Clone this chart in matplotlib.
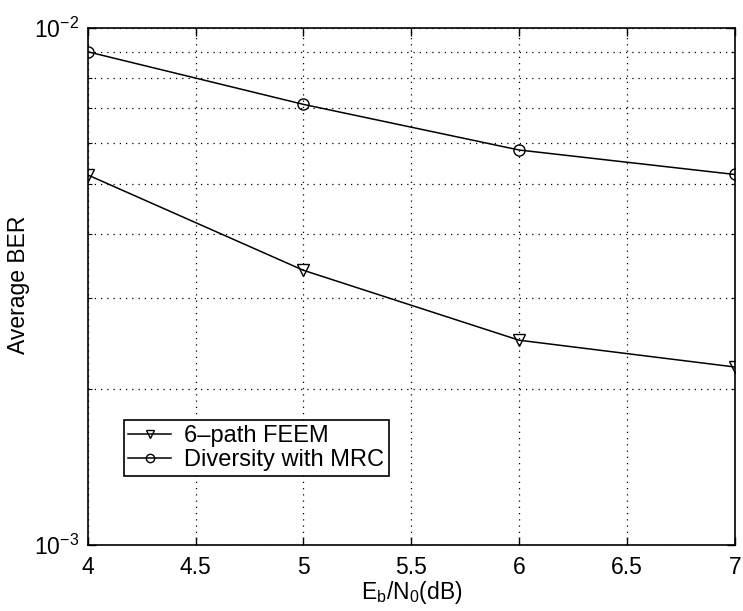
import matplotlib
matplotlib.use("Agg")
import matplotlib.pyplot as plt
from matplotlib.ticker import LogLocator, NullFormatter, FixedLocator

# data
ebn0 = [4, 5, 6, 7]
ber_feem = [5.2e-3, 3.40e-3, 2.49e-3, 2.21e-3]
ber_mrc = [9.0e-3, 7.12e-3, 5.81e-3, 5.21e-3]
labels = ["6\u2013path FEEM", "Diversity with MRC"]
xticks = [4, 4.5, 5, 5.5, 6, 6.5, 7]

plt.rcParams["font.family"] = ["Liberation Sans", "DejaVu Sans"]
plt.rcParams["mathtext.default"] = "regular"
fs = 16.5

fig = plt.figure(figsize=(7.43, 6.11), dpi=100)
ax = fig.add_axes([0.118, 0.108, 0.871, 0.846])

ax.plot(ebn0, ber_feem, "k-v", lw=1.1, ms=8, mfc="none", mew=1.0, label=labels[0])
ax.plot(ebn0, ber_mrc, "k-o", lw=1.1, ms=8, mfc="none", mew=1.0, label=labels[1])

ax.set_yscale("log")
ax.set_xlim(4, 7)
ax.set_ylim(1e-3, 1e-2)
ax.xaxis.set_major_locator(FixedLocator(xticks))
ax.set_xticklabels([f"{t:g}" for t in xticks])
ax.yaxis.set_major_locator(LogLocator(base=10))
ax.yaxis.set_minor_locator(LogLocator(base=10, subs=range(2, 10)))
ax.yaxis.set_minor_formatter(NullFormatter())

ax.grid(True, which="both", color="k", linestyle=(0, (1, 4)), lw=0.9)
ax.tick_params(which="both", direction="in", top=True, right=True, labelsize=fs, colors="k")
ax.tick_params(which="major", length=6, width=1)
ax.tick_params(which="minor", length=3, width=0.8)
ax.tick_params(axis="x", pad=8)
ax.tick_params(axis="y", pad=6)
for s in ax.spines.values():
    s.set_linewidth(1.2)

ax.set_xlabel(r"E$_b$/N$_0$(dB)", fontsize=fs, labelpad=0)
ax.set_ylabel("Average BER", fontsize=fs, va="center")
ax.yaxis.set_label_coords(-0.107, 0.503)

leg = ax.legend(loc="lower left", bbox_to_anchor=(0.0556, 0.1335), fontsize=17,
                fancybox=False, framealpha=1, edgecolor="k", borderpad=0.2,
                handlelength=1.8, handletextpad=0.55, labelspacing=0.1,
                borderaxespad=0, markerscale=0.75)
leg.get_frame().set_linewidth(1.2)

fig.savefig("out.png", dpi=100)
